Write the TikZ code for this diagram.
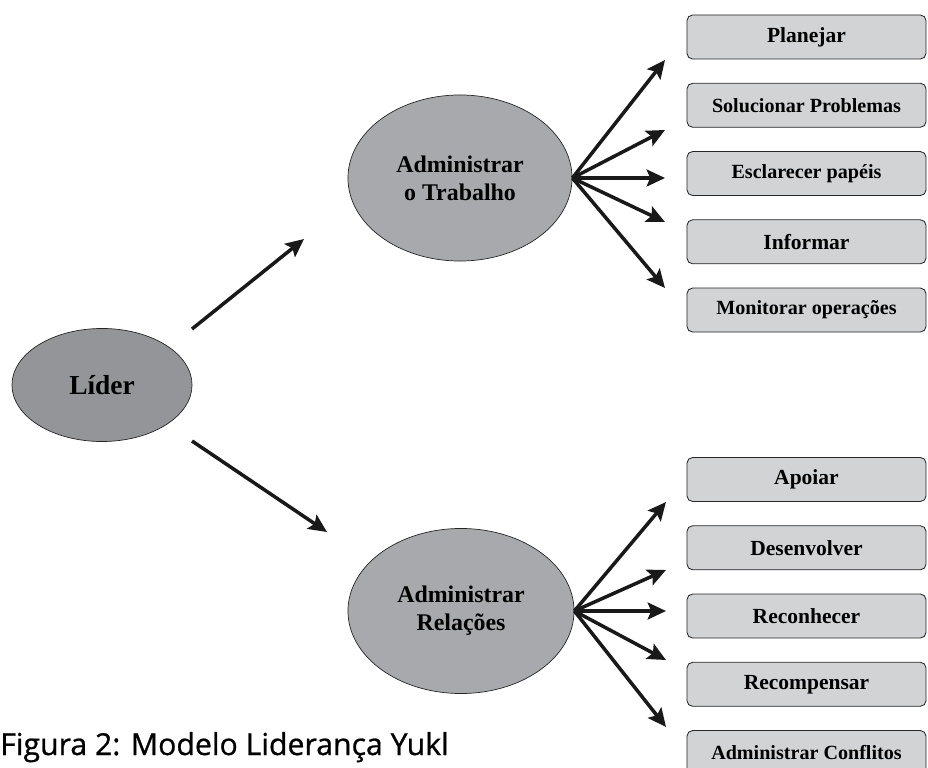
\documentclass[tikz,border=0pt]{standalone}
\usepackage{fontspec}
\setmainfont{Liberation Serif}
\newfontfamily\capfont[FakeBold=0.8]{Open Sans}
\usetikzlibrary{shapes,arrows.meta,positioning}

\definecolor{lidergray}{RGB}{147,149,152}
\definecolor{admgray}{RGB}{167,169,172}
\definecolor{boxgray}{RGB}{209,211,212}

\tikzset{
  elip/.style={ellipse,draw=black!85,line width=0.5pt,align=center,inner sep=0pt,font=\fontsize{17}{20}\selectfont\bfseries},
  tarefa/.style={rectangle,rounded corners=4pt,draw=black!85,fill=boxgray,line width=0.6pt,minimum width=5.975cm,minimum height=1.1cm,font=\fontsize{15.3}{17}\selectfont\bfseries},
  seta/.style={-{Stealth[length=13pt,width=12pt,inset=2.5pt]},line width=2.5pt,black!90}
}

\begin{document}
\begin{tikzpicture}[x=0.025cm,y=-0.025cm]

\useasboundingbox (0,0) rectangle (928,768);

\node[elip,fill=lidergray,minimum width=4.5cm,minimum height=2.825cm,font=\fontsize{19.5}{22}\selectfont\bfseries] (lider) at (102,385) {Líder};

\node[elip,fill=admgray,minimum width=5.6cm,minimum height=4.15cm] (trab) at (460,178) {Administrar\\o Trabalho};
\node[elip,fill=admgray,minimum width=5.65cm,minimum height=4.125cm] (rel) at (461,611) {Administrar\\Relações};

% leader -> two branches
\coordinate (l1) at (192,329); \coordinate (l2) at (304,239);
\coordinate (l3) at (192,441); \coordinate (l4) at (327,532);
\draw[seta] (l1) -- (l2);
\draw[seta] (l3) -- (l4);

% tasks
\node[tarefa] (planejar) at (806.5,37) {Planejar};
\node[tarefa,below=0.585cm of planejar,font=\fontsize{14.3}{16}\selectfont\bfseries] (solucionar) {Solucionar Problemas};
\node[tarefa,below=0.585cm of solucionar,font=\fontsize{14.3}{16}\selectfont\bfseries] (esclarecer) {Esclarecer papéis};
\node[tarefa,below=0.585cm of esclarecer] (informar) {Informar};
\node[tarefa,below=0.585cm of informar,font=\fontsize{14.3}{16}\selectfont\bfseries] (monitorar) {Monitorar operações};

% relations
\node[tarefa] (apoiar) at (806.5,479.5) {Apoiar};
\node[tarefa,below=0.585cm of apoiar] (desenvolver) {Desenvolver};
\node[tarefa,below=0.585cm of desenvolver] (reconhecer) {Reconhecer};
\node[tarefa,below=0.585cm of reconhecer] (recompensar) {Recompensar};
\node[tarefa,below=0.585cm of recompensar,font=\fontsize{14.3}{16}\selectfont\bfseries] (conflitos) {Administrar Conflitos};

\foreach \y [count=\i] in {60,130,178,222,288}{
  \coordinate (tt\i) at (665,\y);
  \draw[seta] (trab.east) -- (tt\i);
}
\foreach \y [count=\i] in {502,570,611,660,727}{
  \coordinate (rr\i) at (666,\y);
  \draw[seta] (rel.east) -- (rr\i);
}

\node[anchor=base west,inner sep=0pt,font=\capfont\fontsize{21.5}{24}\selectfont] (legenda) at (0,755) {Figura 2: Modelo Liderança Yukl};

\end{tikzpicture}
\end{document}
